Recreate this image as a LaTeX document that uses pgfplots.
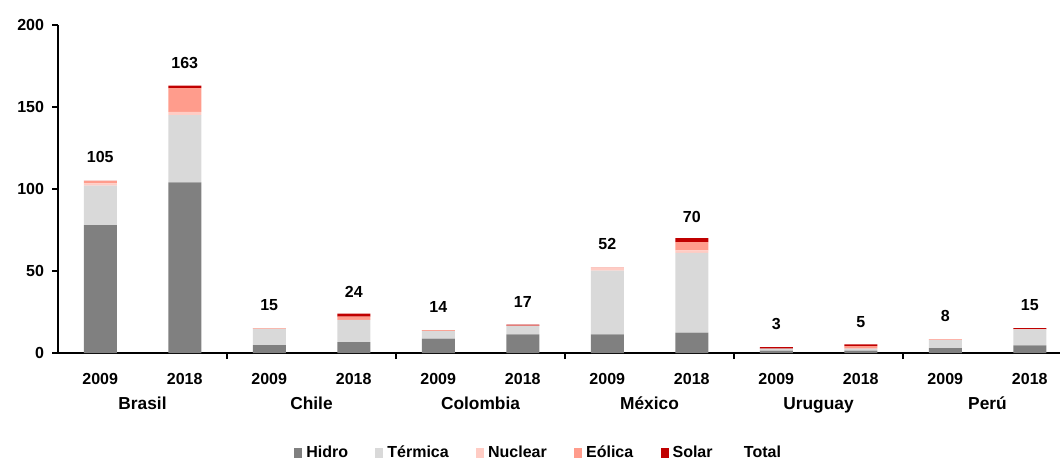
\documentclass[border=0pt]{standalone}
\usepackage{fontspec}
\setmainfont{Liberation Sans}
\usepackage{pgfplots}
\pgfplotsset{compat=1.18}
\usepackage{pgfplotstable}
\definecolor{hidro}{HTML}{808080}
\definecolor{termica}{HTML}{D9D9D9}
\definecolor{nuclear}{HTML}{FFCCC4}
\definecolor{eolica}{HTML}{FF9C8C}
\definecolor{solar}{HTML}{C00000}
\pgfplotstableread{
x Hidro Termica Nuclear Eolica Solar Total
0 78 24 1.5 1.5 0.001 105
1 104 41 2 14.5 1.5 163
2 4.8 9.9 0 0.3 0.001 15
3 6.7 13.5 0 2.0 1.8 24
4 8.8 4.7 0 0.4 0.001 14
5 11.4 5.2 0 0.1 0.6 17
6 11.3 39 1.4 0.4 0.001 52
7 12.5 48.5 1.6 5 2.4 70
8 1.4 1.3 0 0 0.9 3
9 1.4 1.3 0 1.5 1.0 5
10 2.9 4.9 0 0.5 0.001 8
11 4.6 9.8 0 0.1 0.6 15
}\datatable
\begin{document}
\begin{tikzpicture}
\begin{axis}[
  scale only axis,
  width=751.5pt, height=246pt,
  ybar stacked, bar width=24.75pt,
  xmin=-0.5, xmax=11.358, ymin=0, ymax=200,
  axis x line*=bottom, axis y line*=left,
  axis line style={black, line width=0.9pt},
  ytick={0,50,100,150,200},
  tick align=outside,
  ytick style={black, line width=0.9pt},
  major tick length=4.5pt,
  xtick={0,...,11},
  xticklabels={2009,2018,2009,2018,2009,2018,2009,2018,2009,2018,2009,2018},
  xtick style={draw=none},
  extra x ticks={1.5,3.5,5.5,7.5,9.5},
  extra x tick labels={},
  extra x tick style={xtick style={draw=black, line width=0.9pt}},
  ticklabel style={font=\fontsize{12}{14}\selectfont\bfseries},
  yticklabel style={xshift=-2.5pt},
  xticklabel style={font=\fontsize{12}{14}\selectfont\bfseries, yshift=-7.5pt},
  /pgf/number format/assume math mode=true,
  clip=false,
  legend columns=-1,
  legend style={at={(0.48,-0.305)}, anchor=center, draw=none,
    font=\fontsize{12}{14}\selectfont\bfseries,
    /tikz/every even column/.append style={column sep=18.5pt},
    /tikz/every odd column/.append style={column sep=1pt}},
  legend image code/.code={\fill[#1] (0pt,-3.5pt) rectangle (6pt,3.5pt);},
  nodes near coords style={font=\fontsize{12}{14}\selectfont\bfseries, anchor=center, yshift=17.6pt},
]
\addplot[fill=hidro, draw=none] table[x=x, y=Hidro] {\datatable};
\addlegendentry{Hidro}
\addplot[fill=termica, draw=none] table[x=x, y=Termica] {\datatable};
\addlegendentry{Térmica}
\addplot[fill=nuclear, draw=none] table[x=x, y=Nuclear] {\datatable};
\addlegendentry{Nuclear}
\addplot[fill=eolica, draw=none] table[x=x, y=Eolica] {\datatable};
\addlegendentry{Eólica}
\addplot[fill=solar, draw=none, point meta=explicit, nodes near coords={\pgfmathprintnumber{\pgfplotspointmeta}}] table[x=x, y=Solar, meta=Total] {\datatable};
\addlegendentry{Solar}
\addlegendimage{empty legend}
\addlegendentry{Total}
\foreach \p/\n in {0.5/Brasil, 2.5/Chile, 4.5/Colombia, 6.5/México, 8.5/Uruguay, 10.5/Perú}{
  \edef\tmp{\noexpand\node[anchor=base, font=\noexpand\fontsize{13}{15}\noexpand\selectfont\noexpand\bfseries] at (axis cs:\p,0) [yshift=-42.5pt] {\n};}
  \tmp
}
\end{axis}
\pgfresetboundingbox
\path (-43.5pt,-81pt) rectangle (751.5pt,264.75pt);
\end{tikzpicture}
\end{document}
